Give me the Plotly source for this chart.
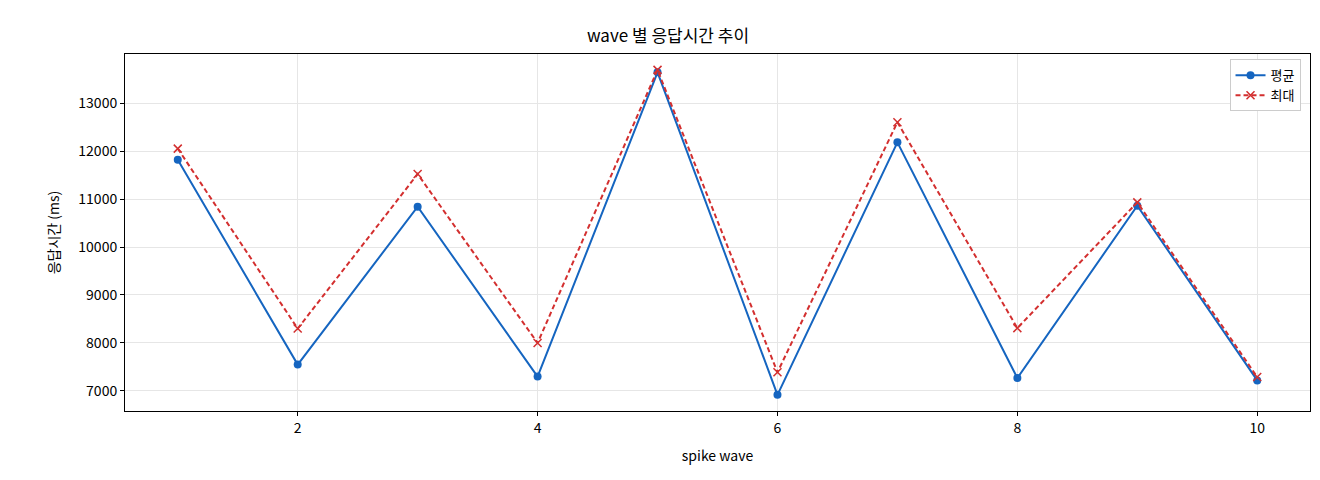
import plotly.graph_objects as go

# spike wave 별 응답시간 (ms)
waves = [1, 2, 3, 4, 5, 6, 7, 8, 9, 10]
avg_ms = [11820, 7550, 10840, 7300, 13640, 6920, 12180, 7270, 10860, 7220]
max_ms = [12050, 8300, 11520, 8000, 13690, 7390, 12600, 8310, 10930, 7290]

fig = go.Figure()
fig.add_trace(go.Scatter(x=waves, y=avg_ms, name="평균", mode="lines+markers",
                         line=dict(color="#1565c0", width=2),
                         marker=dict(symbol="circle", size=8, color="#1565c0")))
fig.add_trace(go.Scatter(x=waves, y=max_ms, name="최대", mode="lines+markers",
                         line=dict(color="#d32f2f", width=2, dash="5px,3px"),
                         marker=dict(symbol="x-thin", size=8, color="#d32f2f",
                                     line=dict(width=1.5, color="#d32f2f"))))

axis_style = dict(showline=True, linecolor="black", linewidth=1, mirror=True,
                  ticks="outside", ticklen=4, tickcolor="black",
                  showgrid=True, gridcolor="#e6e6e6", zeroline=False)

fig.update_layout(
    width=1320, height=480,
    paper_bgcolor="white", plot_bgcolor="white",
    font=dict(family="Noto Sans CJK KR", size=14, color="black"),
    title=dict(text="wave 별 응답시간 추이", x=0.5, xanchor="center", y=0.955, font=dict(size=17)),
    margin=dict(l=117, r=18, t=46, b=77),
    xaxis=dict(title=dict(text="spike wave", font=dict(size=14)), range=[0.56, 10.44],
               tickvals=[2, 4, 6, 8, 10], **axis_style),
    yaxis=dict(title=dict(text="응답시간 (ms)", font=dict(size=14)), range=[6583, 14021],
               tickvals=[7000, 8000, 9000, 10000, 11000, 12000, 13000], tickformat="d",
               **axis_style),
    legend=dict(x=0.992, y=0.985, xanchor="right", yanchor="top",
                bgcolor="white", bordercolor="#cccccc", borderwidth=1, font=dict(size=13)),
)

fig.write_html("out.html")
